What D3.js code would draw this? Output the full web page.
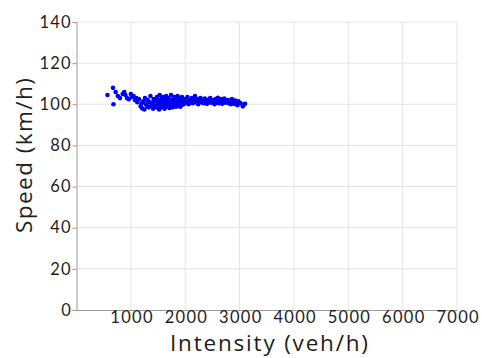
<!DOCTYPE html>
<html><head><meta charset="utf-8">
<script src="https://cdn.jsdelivr.net/npm/d3@7"></script>
<style>body{margin:0;background:#fff}svg{display:block}</style>
</head><body><svg id="c" width="482" height="358"></svg>
<script>
const intensity = [570,672,680,720,760,800,850,880,900,930,960,1000,1020,1050,1080,1100,1120,1150,
1180,1200,1210,1230,1250,1260,1280,1300,1310,1330,1350,1360,1380,1400,1410,1420,1440,1450,1470,1480,1490,1500,1510,1520,1530,1540,1550,1560,1570,1580,1590,1600,1610,1620,1630,1640,1650,1660,1670,1680,1690,1700,1710,1720,1730,1740,1750,1760,1770,1780,1790,1800,1810,1820,1830,1840,1850,1860,1870,1880,1890,1900,1910,1920,1940,1950,1960,1980,2000,
2020,2040,2060,2080,2100,2120,2140,2160,2180,2200,2220,2240,2260,2280,2300,2320,2340,2360,2380,2400,2420,2440,2460,2480,2500,2520,2540,2560,2580,2600,2620,2640,2660,2680,2700,2720,2740,2760,2780,2800,2820,2840,2860,2880,2900,2920,2940,2960,2980,3020,3060,3100];
const speed = [104.5,108,100,106,104,103,105,106,104.5,103,102.5,105,103.5,104,102,103,101,102.5,
99,100.5,98,101.5,97.5,103,100,99,102,98.5,101,104,99.5,100.5,97.8,102.5,99,101.5,98.5,103.5,100,102,99,97.5,104.5,101,99.5,102.5,98.5,100.5,103.5,99,101.5,97.8,102,100,104,98.8,101,99.5,103,100.5,98.2,102,100,104.5,99,101.5,98.5,102.5,100,103.5,99.5,101,98.8,102.5,100.5,104,99.2,101.8,100,102.8,98.8,101,103.5,99.8,101.5,100.2,102.5,
101,103.5,100,102,101,103,100.5,102,104,101,102.5,100,101.5,103,101,102,100.5,102.8,101.5,100.2,102.2,101,103,100.8,102,101.2,100,102.5,101,103.2,100.5,101.8,102.5,100.2,101.5,102.8,100.8,101.5,102,100.5,101.8,100,102.5,101,100.2,101.8,100.8,99.5,101.5,100.5,99,100.2];
const xTicks = [1000,2000,3000,4000,5000,6000,7000];
const yTicks = [0,20,40,60,80,100,120,140];
const xTitle = "Intensity (veh/h)";
const yTitle = "Speed (km/h)";

const svg = d3.select("#c");
const L = 76.5, R = 457, T = 22, B = 310;
const x = d3.scaleLinear().domain([0,7000]).range([L,R]);
const y = d3.scaleLinear().domain([0,140]).range([B,T]);

// grid
svg.append("g").selectAll("line").data(xTicks).join("line")
  .attr("x1",d=>x(d)).attr("x2",d=>x(d)).attr("y1",T).attr("y2",B)
  .attr("stroke","#e4e4e4").attr("stroke-width",1);
svg.append("g").selectAll("line").data(yTicks.filter(d=>d>0)).join("line")
  .attr("x1",L).attr("x2",R).attr("y1",d=>y(d)).attr("y2",d=>y(d))
  .attr("stroke","#e4e4e4").attr("stroke-width",1);

// axes
const ya = svg.append("g").attr("transform",`translate(${L},0)`)
  .call(d3.axisLeft(y).tickValues(yTicks).tickFormat(d3.format("d")).tickSize(4).tickPadding(0.5));
const xa = svg.append("g").attr("transform",`translate(0,${B})`)
  .call(d3.axisBottom(x).tickValues(xTicks).tickFormat(d3.format("d")).tickSize(0).tickPadding(1));
[ya,xa].forEach(g=>{
  g.select(".domain").attr("stroke","#9a9a9a");
  g.selectAll(".tick line").attr("stroke","#9a9a9a");
  g.selectAll("text").style("font-family","Lato, sans-serif").style("font-size","16.5px")
    .style("letter-spacing","1.3px").style("fill","#1e1e1e");
});
xa.selectAll("text").attr("dx","0.7");

// points
svg.append("g").selectAll("circle").data(intensity).join("circle")
  .attr("cx",d=>x(d)).attr("cy",(d,i)=>y(speed[i])).attr("r",2.3).attr("fill","#0000ee");

// titles
svg.append("text").attr("x",269).attr("y",351).attr("text-anchor","middle")
  .attr("textLength",198).attr("lengthAdjust","spacing")
  .style("font-family","'Open Sans', sans-serif").style("font-size","22.5px").style("fill","#1e1e1e").text(xTitle);
svg.append("text").attr("transform","translate(32,155.5) rotate(-90)").attr("text-anchor","middle")
  .attr("textLength",155).attr("lengthAdjust","spacing")
  .style("font-family","'Open Sans', sans-serif").style("font-size","22.5px").style("fill","#1e1e1e").text(yTitle);
</script></body></html>
